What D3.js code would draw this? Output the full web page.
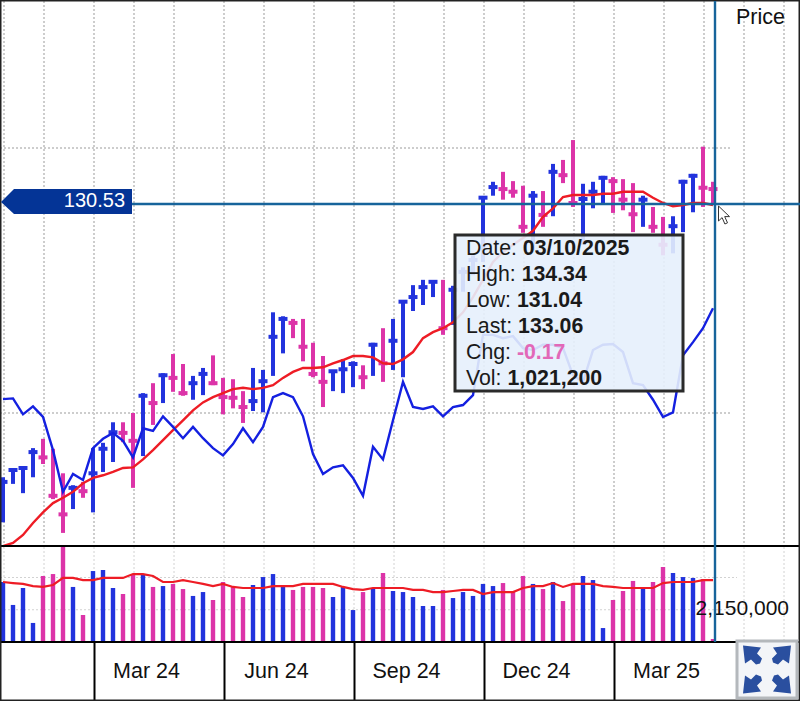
<!DOCTYPE html>
<html>
<head>
<meta charset="utf-8">
<title>Price chart</title>
<script src="https://cdn.jsdelivr.net/npm/d3@7"></script>
<style>
  html, body { margin: 0; padding: 0; background: #fff; }
  svg { display: block; font-family: "Liberation Sans", Arial, sans-serif; }
</style>
</head>
<body>
<svg id="chart" width="800" height="701"></svg>
<script>
// weekly bars, oldest first
const highs = [90.3,91.5,92.0,94.7,96.1,94.6,90.9,89.1,89.6,94.7,95.5,98.6,98.6,100.0,103.0,104.5,106.0,108.9,107.4,105.6,106.8,108.7,105.3,105.1,103.3,106.8,106.5,115.2,114.6,114.2,114.2,110.6,108.6,106.5,108.1,107.8,107.2,110.6,112.8,114.2,116.9,119.3,120.1,119.9,120.1,119.2,122.0,123.8,132.6,134.9,136.4,135.0,134.3,133.5,133.5,137.6,138.2,141.2,134.6,134.9,135.8,135.6,135.3,134.7,132.8,131.1,129.6,129.7,135.2,136.1,140.2,134.9];
const lows = [83.5,89.3,87.9,90.3,92.3,87.0,81.9,85.5,87.2,85.0,91.1,92.6,95.6,88.7,93.5,98.2,101.5,103.2,102.6,102.0,102.7,104.2,99.8,100.7,98.5,100.3,100.1,105.6,109.0,111.3,107.8,105.4,100.9,103.3,103.0,103.9,103.6,105.6,104.7,106.5,105.4,115.4,116.3,117.5,111.8,113.3,118.3,120.8,122.8,132.8,132.2,132.5,127.2,124.6,128.1,129.7,134.7,131.1,125.4,130.9,131.7,130.2,130.6,127.3,128.1,127.2,123.8,124.1,127.3,130.3,131.1,131.7];
const closes = [89.6,91.4,91.7,94.1,93.3,87.5,84.7,88.7,88.2,90.9,94.6,97.1,97.0,95.8,102.6,101.5,105.7,105.3,103.0,104.5,105.9,104.5,102.4,102.3,100.9,101.8,104.8,111.5,114.2,113.6,110.0,105.9,104.7,106.3,106.6,107.4,105.4,110.3,107.5,110.9,116.8,117.5,119.0,119.8,112.8,118.6,121.3,123.1,132.5,134.1,133.8,133.4,128.1,132.8,129.9,136.4,135.9,131.7,132.3,133.4,135.5,135.0,132.2,130.0,132.2,128.1,125.4,128.2,134.9,135.8,134.0,133.8];
const comparison = [102.1,102.2,99.8,101.0,99.4,94.4,88.1,90.8,89.9,94.7,96.1,97.0,95.8,93.3,97.7,97.3,99.5,97.9,96.2,97.9,96.2,94.7,93.6,95.3,97.7,95.6,97.9,102.4,103.0,102.4,99.5,93.8,90.8,91.8,92.1,90.2,87.5,94.9,93.0,98.9,104.7,100.9,100.6,101.0,99.5,100.9,101.2,102.7,111.8,111.8,111.3,111.6,109.8,109.5,110.3,110.3,109.8,105.7,104.7,109.5,110.3,110.4,109.2,104.5,104.2,102.0,99.4,100.1,108.7,110.7,112.8,115.8];
const priceAvg = [79.9,80.4,81.6,83.4,85.0,86.4,87.2,88.1,89.4,90.2,90.6,91.1,91.7,91.8,93.0,94.4,95.9,97.4,98.9,100.4,101.6,102.4,103.0,103.6,103.8,103.6,103.8,104.2,105.3,106.2,106.8,106.8,106.9,107.5,108.0,108.6,108.6,108.4,107.5,107.4,108.1,109.2,111.3,112.2,112.8,113.7,115.2,117.5,120.1,122.8,124.3,125.4,126.4,127.5,129.6,130.9,132.6,132.9,132.9,132.9,133.1,133.1,133.4,133.4,133.4,132.5,131.7,131.2,131.4,131.7,131.7,131.4];
// volume in millions of shares
const volumes = [4.00,2.47,3.60,1.27,4.40,4.53,6.67,3.67,1.80,4.73,4.80,3.60,3.20,4.53,4.53,3.67,3.73,3.87,3.53,3.07,3.33,2.80,4.00,3.67,3.00,3.80,4.33,4.53,3.73,3.47,3.67,3.67,3.60,3.00,3.67,2.13,3.33,3.60,4.60,3.40,3.33,3.00,2.40,2.40,3.47,2.93,3.33,3.07,3.87,3.73,3.93,3.33,4.40,3.87,3.53,4.00,2.73,3.80,4.40,4.13,0.93,2.80,3.40,4.07,3.60,4.00,5.00,4.60,4.33,4.27,4.20,0.20];
const volumeAvg = [4.00,3.93,3.87,3.73,3.67,3.80,4.27,4.27,4.13,4.13,4.27,4.27,4.27,4.53,4.53,4.40,4.00,4.00,4.13,4.00,3.87,3.73,3.87,3.67,3.60,3.60,3.60,3.73,3.73,3.73,3.87,3.87,3.87,3.87,3.67,3.53,3.47,3.60,3.60,3.60,3.60,3.47,3.47,3.33,3.33,3.40,3.47,3.47,3.20,3.33,3.33,3.33,3.60,3.73,3.73,3.93,3.67,3.87,3.87,3.87,3.73,3.67,3.60,3.60,3.60,3.60,3.93,4.00,4.00,4.00,4.13,4.13];

const monthStarts = [0,4,9,13,17,22,26,31,35,39,44,48,52,57,61,66,70,74,78];
const quarterStarts = [9,22,35,48,61];
const quarterLabels = [`Mar 24`,`Jun 24`,`Sep 24`,`Dec 24`,`Mar 25`];
const priceGrid = [140,100];
const volumeGrid = [2.15,4.3];
const tooltipRows = [
  [`Date: `,`03/10/2025`],
  [`High: `,`134.34`],
  [`Low: `,`131.04`],
  [`Last: `,`133.06`],
  [`Chg: `,`-0.17`],
  [`Vol: `,`1,021,200`]
];
const currentPrice = 130.53;

const BLUE = `#2233dd`;
const PINK = `#dc34a8`;
const CROSS = `#17649b`;

const svg = d3.select(`#chart`);
const x = d3.scaleLinear().domain([0,71]).range([3,713]);
const y = d3.scaleLinear().domain([100,140]).range([413,148]);
const yVol = d3.scaleLinear().domain([0,6.4]).range([642,546]);
const barColor = i => (i > 0 && closes[i] < closes[i - 1]) ? PINK : BLUE;

svg.append(`rect`).attr(`width`,800).attr(`height`,701).attr(`fill`,`#fff`);

svg.append(`clipPath`).attr(`id`,`vol-clip`).append(`rect`)
  .attr(`x`,0).attr(`y`,547).attr(`width`,800).attr(`height`,95);

// grid
const grid = svg.append(`g`);
grid.selectAll(`.vp`).data(monthStarts).enter().append(`line`)
  .attr(`x1`,d => x(d) + 1).attr(`x2`,d => x(d) + 1)
  .attr(`y1`,1).attr(`y2`,546)
  .attr(`stroke`,`#cdcdcd`).attr(`stroke-width`,2).attr(`stroke-dasharray`,`2 2`);
grid.selectAll(`.vv`).data(monthStarts).enter().append(`line`)
  .attr(`x1`,d => x(d) + 1).attr(`x2`,d => x(d) + 1)
  .attr(`y1`,547).attr(`y2`,642)
  .attr(`stroke`,`#d2d2d2`).attr(`stroke-width`,1).attr(`stroke-dasharray`,`2 2`);
grid.selectAll(`.hp`).data(priceGrid).enter().append(`line`)
  .attr(`x1`,0).attr(`x2`,730)
  .attr(`y1`,d => y(d)).attr(`y2`,d => y(d))
  .attr(`stroke`,`#cdcdcd`).attr(`stroke-width`,2).attr(`stroke-dasharray`,`2 2`);
grid.selectAll(`.hv`).data(volumeGrid).enter().append(`line`)
  .attr(`x1`,0).attr(`x2`,737)
  .attr(`y1`,d => yVol(d)).attr(`y2`,d => yVol(d))
  .attr(`stroke`,`#d2d2d2`).attr(`stroke-width`,1).attr(`stroke-dasharray`,`2 2`);

// price bars
const bars = svg.append(`g`);
bars.selectAll(`.stem`).data(closes).enter().append(`line`)
  .attr(`x1`,(d,i) => x(i)).attr(`x2`,(d,i) => x(i))
  .attr(`y1`,(d,i) => y(highs[i])).attr(`y2`,(d,i) => y(lows[i]))
  .attr(`stroke`,(d,i) => barColor(i)).attr(`stroke-width`,4);
bars.selectAll(`.tick`).data(closes).enter().append(`line`)
  .attr(`x1`,(d,i) => x(i) - 4.5).attr(`x2`,(d,i) => x(i) + 4.5)
  .attr(`y1`,d => y(d)).attr(`y2`,d => y(d))
  .attr(`stroke`,(d,i) => barColor(i)).attr(`stroke-width`,4);

const priceLine = d3.line().x((d,i) => x(i)).y(d => y(d));
svg.append(`path`).attr(`d`,priceLine(priceAvg))
  .attr(`fill`,`none`).attr(`stroke`,`#ee1c25`).attr(`stroke-width`,2.4);
svg.append(`path`).attr(`d`,priceLine(comparison))
  .attr(`fill`,`none`).attr(`stroke`,`#1420e0`).attr(`stroke-width`,2.4);

// volume panel
svg.append(`g`).attr(`clip-path`,`url(#vol-clip)`)
  .selectAll(`rect`).data(volumes).enter().append(`rect`)
  .attr(`x`,(d,i) => x(i) - 2.2).attr(`width`,4.4)
  .attr(`y`,d => yVol(d)).attr(`height`,d => yVol(0) - yVol(d))
  .attr(`fill`,(d,i) => barColor(i));
svg.append(`path`)
  .attr(`d`,d3.line().x((d,i) => x(i)).y(d => yVol(d))(volumeAvg))
  .attr(`fill`,`none`).attr(`stroke`,`#ee1c25`).attr(`stroke-width`,2.2);

svg.append(`text`).attr(`x`,789).attr(`y`,614.5).attr(`text-anchor`,`end`)
  .attr(`font-size`,21).attr(`fill`,`#111`).text(`2,150,000`);
svg.append(`text`).attr(`x`,785).attr(`y`,24).attr(`text-anchor`,`end`)
  .attr(`font-size`,21.5).attr(`fill`,`#111`).text(`Price`);

// date axis
const axis = d3.axisBottom(x)
  .tickValues(quarterStarts)
  .tickFormat((d,i) => quarterLabels[i])
  .tickSize(59)
  .tickSizeOuter(0);
const axisG = svg.append(`g`).attr(`transform`,`translate(1,642)`).call(axis);
axisG.select(`.domain`).remove();
axisG.selectAll(`line`).attr(`stroke`,`#000`).attr(`stroke-width`,2);
axisG.selectAll(`text`)
  .attr(`x`,52).attr(`y`,36).attr(`dy`,null)
  .attr(`font-family`,`"Liberation Sans", Arial, sans-serif`)
  .attr(`font-size`,21.5).attr(`fill`,`#111`);

// panel rules and frame
svg.append(`line`).attr(`x1`,0).attr(`x2`,800).attr(`y1`,546).attr(`y2`,546)
  .attr(`stroke`,`#000`).attr(`stroke-width`,2);
svg.append(`line`).attr(`x1`,0).attr(`x2`,800).attr(`y1`,642).attr(`y2`,642)
  .attr(`stroke`,`#000`).attr(`stroke-width`,2);
svg.append(`rect`).attr(`x`,0.5).attr(`y`,0.5).attr(`width`,799).attr(`height`,700)
  .attr(`fill`,`none`).attr(`stroke`,`#222`).attr(`stroke-width`,2);

// crosshair
svg.append(`line`).attr(`x1`,715).attr(`x2`,715).attr(`y1`,1).attr(`y2`,642)
  .attr(`stroke`,CROSS).attr(`stroke-width`,2.4);
svg.append(`line`).attr(`x1`,132).attr(`x2`,800).attr(`y1`,204).attr(`y2`,204)
  .attr(`stroke`,CROSS).attr(`stroke-width`,2.4);
svg.append(`path`).attr(`d`,`M1,202L14,189H132V214H14Z`).attr(`fill`,`#043496`);
svg.append(`text`).attr(`x`,125).attr(`y`,207).attr(`text-anchor`,`end`)
  .attr(`font-size`,20).attr(`fill`,`#fff`).text(d3.format(`.2f`)(currentPrice));

// mouse pointer
svg.append(`path`)
  .attr(`transform`,`translate(718.5,206)`)
  .attr(`d`,`M0,0V15L3.6,11.6L6.4,18L9,16.8L6.2,10.6H11Z`)
  .attr(`fill`,`#fff`).attr(`stroke`,`#333`).attr(`stroke-width`,1);

// tooltip
svg.append(`rect`).attr(`x`,455).attr(`y`,235).attr(`width`,228).attr(`height`,156)
  .attr(`fill`,`#e6f0fc`).attr(`fill-opacity`,0.9)
  .attr(`stroke`,`#2a2a2a`).attr(`stroke-width`,3);
const rows = svg.append(`g`).selectAll(`text`).data(tooltipRows).enter().append(`text`)
  .attr(`x`,466).attr(`y`,(d,i) => 255 + i * 26)
  .attr(`font-size`,21.3).attr(`fill`,`#1a1a1a`)
  .style(`white-space`,`pre`);
rows.append(`tspan`).text(d => d[0]);
rows.append(`tspan`).attr(`font-weight`,`bold`)
  .attr(`fill`,d => d[0].startsWith(`Chg`) ? `#e268b8` : `#1a1a1a`)
  .text(d => d[1]);

// expand button
const button = svg.append(`g`);
button.append(`rect`).attr(`x`,737).attr(`y`,641).attr(`width`,60).attr(`height`,57)
  .attr(`fill`,`#f3f5f8`).attr(`stroke`,`#b4b8bc`).attr(`stroke-width`,3);
button.selectAll(`path`).data([0,90,180,270]).enter().append(`path`)
  .attr(`transform`,d => `translate(767,669.5) rotate(${d})`)
  .attr(`d`,`M-5,-11L-10,-16L-6,-22L-24,-24L-22,-6L-16,-10L-11,-5L-7,-6Z`)
  .attr(`fill`,`#2a4f9f`);
</script>
</body>
</html>
